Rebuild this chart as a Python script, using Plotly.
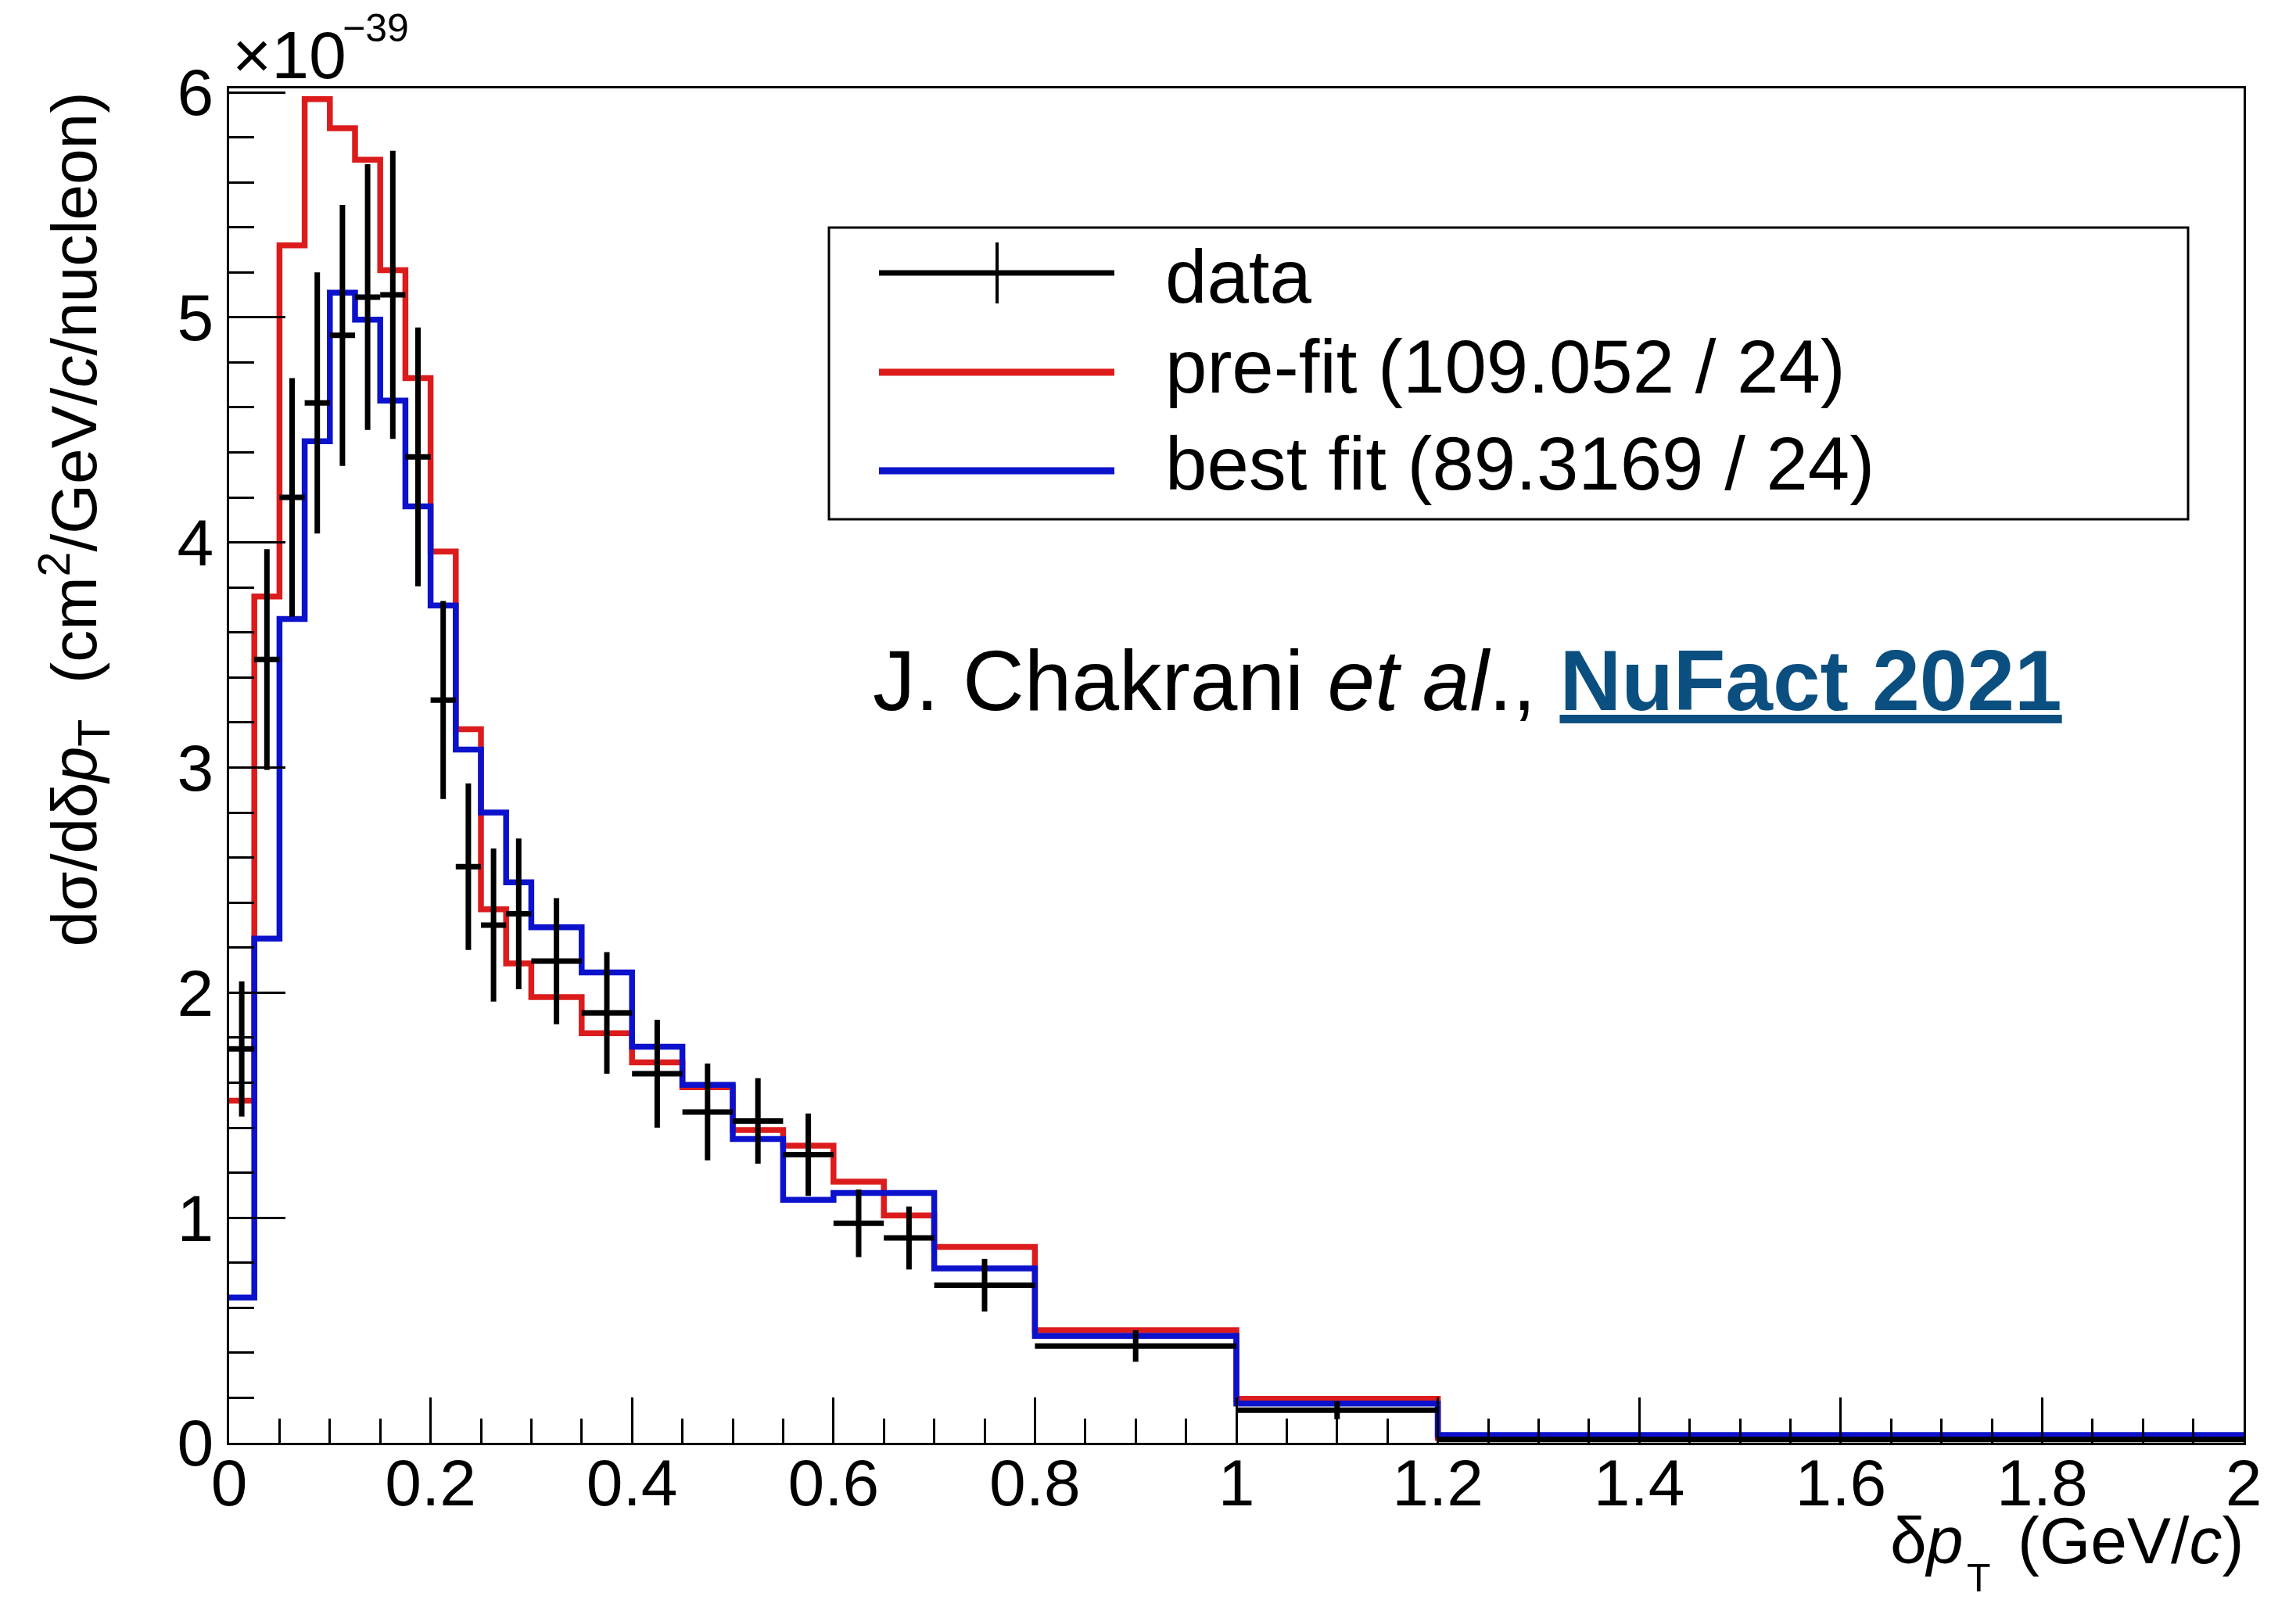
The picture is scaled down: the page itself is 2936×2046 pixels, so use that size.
import plotly.graph_objects as go

# Binning of the transverse momentum imbalance, GeV/c
bin_edges = [0, 0.025, 0.05, 0.075, 0.1, 0.125, 0.15, 0.175, 0.2, 0.225, 0.25,
             0.275, 0.3, 0.35, 0.4, 0.45, 0.5, 0.55, 0.6, 0.65, 0.7, 0.8, 1.0, 1.2, 2.0]

# Differential cross section in units of 1e-39 cm^2/GeV/c/nucleon
data_xsec = [1.75, 3.48, 4.20, 4.62, 4.92, 5.09, 5.10, 4.38, 3.30, 2.56, 2.30, 2.35,
             2.14, 1.91, 1.64, 1.47, 1.43, 1.28, 0.975, 0.91, 0.70, 0.43, 0.145, 0.015]
data_err = [0.30, 0.49, 0.53, 0.58, 0.58, 0.59, 0.64, 0.575, 0.44, 0.37, 0.34, 0.335,
            0.28, 0.27, 0.24, 0.215, 0.19, 0.183, 0.15, 0.14, 0.117, 0.07, 0.04, 0.008]
prefit_xsec = [1.52, 3.76, 5.32, 5.97, 5.84, 5.70, 5.21, 4.73, 3.96, 3.17, 2.37, 2.13,
               1.98, 1.82, 1.69, 1.58, 1.39, 1.32, 1.16, 1.01, 0.87, 0.50, 0.195, 0.022]
bestfit_xsec = [0.645, 2.24, 3.66, 4.45, 5.11, 4.99, 4.63, 4.16, 3.72, 3.08, 2.80, 2.49,
                2.29, 2.09, 1.76, 1.59, 1.35, 1.08, 1.11, 1.11, 0.775, 0.475, 0.175, 0.035]

legend_labels = ["data", "pre-fit (109.052 / 24)", "best fit (89.3169 / 24)"]

x_ticks = [0, 0.2, 0.4, 0.6, 0.8, 1.0, 1.2, 1.4, 1.6, 1.8, 2.0]
x_tick_labels = ["0", "0.2", "0.4", "0.6", "0.8", "1", "1.2", "1.4", "1.6", "1.8", "2"]
y_ticks = [0, 1, 2, 3, 4, 5, 6]
y_tick_labels = ["0", "1", "2", "3", "4", "5", "6"]

# Canvas and frame geometry (pixels)
W, H = 2936, 2046
L, R, T, B = 293, 2869, 113, 1845
Y_MAX = 6.0174

FONT = "Liberation Sans, Arial, Helvetica, sans-serif"
RED = "#dc1c1c"
BLUE = "#0c12cc"
LINK = "#0b4f80"


def xp(px):
    return (px - L) / (R - L)


def yp(py):
    return (B - py) / (B - T)


centers = [(a + b) / 2 for a, b in zip(bin_edges[:-1], bin_edges[1:])]
half_widths = [(b - a) / 2 for a, b in zip(bin_edges[:-1], bin_edges[1:])]

fig = go.Figure()

# Model predictions as step histograms
fig.add_trace(go.Scatter(
    x=bin_edges, y=prefit_xsec + prefit_xsec[-1:], mode="lines",
    line=dict(shape="hv", color=RED, width=7.5), showlegend=False,
    name=legend_labels[1]))
fig.add_trace(go.Scatter(
    x=bin_edges, y=bestfit_xsec + bestfit_xsec[-1:], mode="lines",
    line=dict(shape="hv", color=BLUE, width=7.5), showlegend=False,
    name=legend_labels[2]))

# Measured points: bin-width horizontal bars and vertical uncertainties
fig.add_trace(go.Scatter(
    x=centers, y=data_xsec, mode="markers",
    marker=dict(size=1, color="black"),
    error_x=dict(type="data", array=half_widths, width=0, thickness=7, color="black"),
    error_y=dict(type="data", array=data_err, width=0, thickness=7, color="black"),
    showlegend=False, name=legend_labels[0]))

axis_common = dict(
    ticks="inside", tickwidth=3, tickcolor="black",
    showline=True, linewidth=3, linecolor="black", mirror=True,
    showgrid=False, zeroline=False,
    tickfont=dict(family=FONT, size=84, color="black"),
)

fig.update_layout(
    width=W, height=H,
    margin=dict(l=L, r=W - R, t=T, b=H - B, pad=0),
    paper_bgcolor="white", plot_bgcolor="white",
    xaxis=dict(range=[0, 2], tickvals=x_ticks, ticktext=x_tick_labels, ticklen=58,
               ticklabelstandoff=-24,
               minor=dict(dtick=0.05, tick0=0, ticks="inside", ticklen=31,
                          tickwidth=3, tickcolor="black"),
               **axis_common),
    yaxis=dict(range=[0, Y_MAX], tickvals=y_ticks, ticktext=y_tick_labels, ticklen=72,
               minor=dict(dtick=0.2, tick0=0, ticks="inside", ticklen=32,
                          tickwidth=3, tickcolor="black"),
               **axis_common),
    showlegend=False,
)

shapes = []
annotations = []

# Legend box
shapes.append(dict(type="rect", xref="paper", yref="paper",
                   x0=xp(1060), x1=xp(2798), y0=yp(664), y1=yp(291),
                   line=dict(color="black", width=3), fillcolor="white", layer="above"))
# Legend samples
shapes.append(dict(type="line", xref="paper", yref="paper",
                   x0=xp(1124), x1=xp(1425), y0=yp(349), y1=yp(349),
                   line=dict(color="black", width=7), layer="above"))
shapes.append(dict(type="line", xref="paper", yref="paper",
                   x0=xp(1275), x1=xp(1275), y0=yp(310), y1=yp(388),
                   line=dict(color="black", width=4), layer="above"))
shapes.append(dict(type="line", xref="paper", yref="paper",
                   x0=xp(1124), x1=xp(1425), y0=yp(476), y1=yp(476),
                   line=dict(color=RED, width=9), layer="above"))
shapes.append(dict(type="line", xref="paper", yref="paper",
                   x0=xp(1124), x1=xp(1425), y0=yp(602), y1=yp(602),
                   line=dict(color=BLUE, width=9), layer="above"))

for label, ymid in zip(legend_labels, [353, 468, 592]):
    annotations.append(dict(text=label, xref="paper", yref="paper",
                            x=xp(1488), y=yp(ymid), xanchor="left", yanchor="middle",
                            showarrow=False, font=dict(family=FONT, size=96, color="black")))

# Axis exponent
annotations.append(dict(text="\u00d710", xref="paper", yref="paper",
                        x=xp(295), y=yp(70), xanchor="left", yanchor="middle",
                        showarrow=False, font=dict(family=FONT, size=86, color="black")))
annotations.append(dict(text="\u221239", xref="paper", yref="paper",
                        x=xp(436), y=yp(36), xanchor="left", yanchor="middle",
                        showarrow=False, font=dict(family=FONT, size=50, color="black")))

# X axis title, right aligned at the end of the axis
annotations.append(dict(text="(GeV/<i>c</i>)", xref="paper", yref="paper",
                        x=xp(2871), y=yp(1970), xanchor="right", yanchor="middle",
                        showarrow=False, font=dict(family=FONT, size=84, color="black")))
annotations.append(dict(text="\u03b4<i>p</i>", xref="paper", yref="paper",
                        x=xp(2512), y=yp(1970), xanchor="right", yanchor="middle",
                        showarrow=False, font=dict(family=FONT, size=84, color="black")))
annotations.append(dict(text="T", xref="paper", yref="paper",
                        x=xp(2513), y=yp(2018), xanchor="left", yanchor="middle",
                        showarrow=False, font=dict(family=FONT, size=50, color="black")))

# Y axis title, aligned to the top of the axis
annotations.append(dict(
    text="d\u03c3/d\u03b4<i>p</i><sub>T</sub>  (cm<sup>2</sup>/GeV/<i>c</i>/nucleon)",
    xref="paper", yref="paper", x=xp(94), y=yp(116), xanchor="center", yanchor="top",
    textangle=-90, showarrow=False, font=dict(family=FONT, size=82, color="black")))

# Reference note
annotations.append(dict(
    text=("J. Chakrani <i>et al</i>., "
          "<span style=\"color:" + LINK + "\"><b><u>NuFact 2021</u></b></span>"),
    xref="paper", yref="paper", x=xp(1114), y=yp(870), xanchor="left", yanchor="middle",
    showarrow=False, font=dict(family=FONT, size=109, color="black")))

fig.update_layout(shapes=shapes, annotations=annotations)

fig.write_html("out.html")
